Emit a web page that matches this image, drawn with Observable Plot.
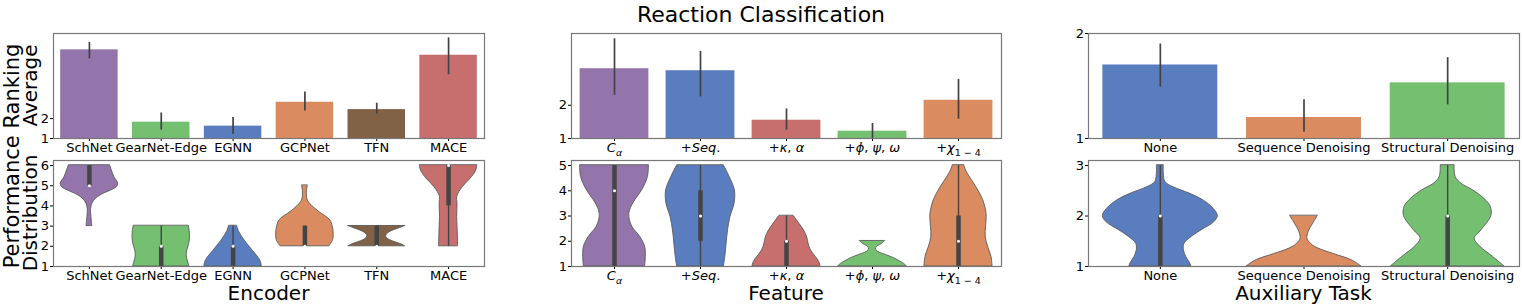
<!DOCTYPE html>
<html><head><meta charset="utf-8">
<script src="https://cdn.jsdelivr.net/npm/d3@7"></script>
<script src="https://cdn.jsdelivr.net/npm/@observablehq/plot@0.6"></script>
<style>
html,body{margin:0;padding:0;background:#fff;}
#chart{position:relative;width:1522px;height:308px;overflow:hidden;font-family:"DejaVu Sans",sans-serif;}
</style></head><body><div id="chart"></div>
<script>
// ---------------- DATA ----------------
const encoders = ["SchNet", "GearNet-Edge", "EGNN", "GCPNet", "TFN", "MACE"];
const encoderMean = [5.45, 1.82, 1.62, 2.82, 2.45, 5.18];
const encoderLo   = [5.00, 1.42, 1.20, 2.38, 2.23, 4.20];
const encoderHi   = [5.82, 2.28, 2.05, 3.33, 2.77, 6.05];

const features = ["Cα", "+Seq.", "+κ, α", "+ϕ, ψ, ω", "+χ1−4"];
const featureMean = [3.10, 3.04, 1.55, 1.22, 2.15];
const featureLo   = [2.30, 2.25, 1.25, 1.00, 1.58];
const featureHi   = [4.00, 3.62, 1.89, 1.45, 2.78];

const auxTasks = ["None", "Sequence Denoising", "Structural Denoising"];
const auxMean = [1.70, 1.20, 1.53];
const auxLo   = [1.49, 1.06, 1.32];
const auxHi   = [1.90, 1.37, 1.77];

// violin profiles: [rank value, relative half width]
const encoderViolins = [
  [[6,0.72],[5.75,0.78],[5.42,0.87],[5.1,1.0],[4.93,0.95],[4.77,0.76],[4.6,0.49],[4.36,0.23],[4.1,0.1],[3.86,0.06],[3.62,0.06],[3.29,0.08],[3,0.1]],
  [[3,0.96],[2.75,0.99],[2.5,1.0],[2.25,0.99],[2,0.95],[1.75,0.9],[1.5,0.89],[1.25,0.93],[1,0.98]],
  [[3,0.14],[2.75,0.2],[2.5,0.3],[2.25,0.42],[2,0.56],[1.75,0.7],[1.5,0.85],[1.25,0.96],[1,1.0]],
  [[5,0.1],[4.75,0.07],[4.5,0.07],[4.27,0.1],[4,0.25],[3.7,0.5],[3.29,0.88],[2.96,0.97],[2.63,1.0],[2.3,0.98],[2,0.85]],
  [[3,0.99],[2.9,0.8],[2.8,0.6],[2.7,0.45],[2.6,0.36],[2.5,0.33],[2.4,0.36],[2.3,0.47],[2.2,0.65],[2.1,0.85],[2,0.99]],
  [[6,1.0],[5.75,0.96],[5.42,0.81],[5.1,0.6],[4.77,0.41],[4.44,0.3],[4.11,0.31],[3.45,0.3],[2.63,0.32],[2,0.33]]
];
const featureViolins = [
  [[5,1.0],[4.54,0.97],[4.01,0.8],[3.62,0.6],[3.22,0.45],[2.96,0.43],[2.57,0.52],[2.17,0.75],[1.78,0.89],[1.38,0.91],[1,0.89]],
  [[5,0.68],[4.54,0.85],[4.01,1.0],[3.49,0.99],[2.96,0.87],[2.43,0.8],[1.91,0.76],[1.38,0.72],[1,0.68]],
  [[3,0.21],[2.7,0.37],[2.38,0.53],[2.11,0.61],[1.91,0.64],[1.64,0.71],[1.38,0.85],[1.18,0.95],[1,0.99]],
  [[2,0.36],[1.9,0.28],[1.8,0.15],[1.7,0.1],[1.6,0.14],[1.5,0.3],[1.4,0.5],[1.3,0.67],[1.2,0.8],[1.1,0.92],[1,1.0]],
  [[5,0.17],[4.8,0.22],[4.54,0.33],[4.14,0.52],[3.62,0.72],[3.22,0.8],[2.96,0.82],[2.57,0.8],[2.17,0.79],[1.78,0.86],[1.38,0.96],[1,0.99]]
];
const auxViolins = [
  [[3,0.06],[2.84,0.06],[2.67,0.09],[2.57,0.23],[2.44,0.52],[2.31,0.75],[2.14,0.93],[2,1.0],[1.88,0.94],[1.72,0.72],[1.59,0.55],[1.45,0.42],[1.32,0.41],[1.19,0.45],[1.06,0.52],[1,0.54]],
  [[2,0.24],[1.85,0.16],[1.68,0.08],[1.55,0.06],[1.45,0.12],[1.39,0.19],[1.32,0.33],[1.22,0.59],[1.13,0.82],[1,1.0]],
  [[3,0.12],[2.77,0.14],[2.64,0.24],[2.51,0.44],[2.34,0.64],[2.18,0.75],[2,0.76],[1.72,0.59],[1.55,0.47],[1.39,0.57],[1.19,0.79],[1,0.99]]
];

// inner box statistics: q1, median, q3, whisker low, whisker high
const encoderQ1  = [5, 1, 1, 2, 2, 4];
const encoderMed = [5, 2, 2, 2, 2, 6];
const encoderQ3  = [6, 2, 2, 3, 3, 6];
const encoderWLo = [5, 1, 1, 2, 2, 2];
const encoderWHi = [6, 3, 3, 3, 3, 6];

const featureQ1  = [1, 2, 1, 1, 1];
const featureMed = [4, 3, 2, 1, 2];
const featureQ3  = [5, 4, 2, 1, 3];
const featureWLo = [1, 1, 1, 1, 1];
const featureWHi = [5, 5, 3, 1, 5];

const auxQ1  = [1, 1, 1];
const auxMed = [2, 1, 2];
const auxQ3  = [2, 1, 2];
const auxWLo = [1, 1, 1];
const auxWHi = [3, 1, 3];

// axis ticks / domains
const encoderTopTicks = [1, 2],  encoderTopDomain = [1, 6.27];
const featureTopTicks = [1, 2],  featureTopDomain = [1, 4.16];
const auxTopTicks = [1, 2],      auxTopDomain = [1, 2];
const encoderBotTicks = [1, 2, 3, 4, 5, 6], encoderBotDomain = [1, 6.25];
const featureBotTicks = [1, 2, 3, 4, 5],    featureBotDomain = [1, 5.2];
const auxBotTicks = [1, 2, 3],              auxBotDomain = [1, 3.1];

// ---------------- STYLE ----------------
const muted = {blue:"#4878d0", orange:"#ee854a", green:"#6acc64", red:"#d65f5f", purple:"#956cb4", brown:"#8c613c"};
const desat = c => { const h = d3.hsl(c); h.s *= 0.75; return h.formatHex(); };
const encoderColors = [muted.purple, muted.green, muted.blue, muted.orange, muted.brown, muted.red].map(desat);
const featureColors = [muted.purple, muted.blue, muted.red, muted.green, muted.orange].map(desat);
const auxColors = [muted.blue, muted.orange, muted.green].map(desat);

const featureTickParts = {
  "Cα": [{t:"C", it:true}, {t:"α", it:true, sub:true}],
  "+Seq.": [{t:"+"}, {t:"Seq", it:true}, {t:"."}],
  "+κ, α": [{t:"+"}, {t:"κ", it:true}, {t:", "}, {t:"α", it:true}],
  "+ϕ, ψ, ω": [{t:"+"}, {t:"ϕ", it:true}, {t:", "}, {t:"ψ", it:true}, {t:", "}, {t:"ω", it:true}],
  "+χ1−4": [{t:"+"}, {t:"χ", it:true}, {t:"1 − 4", sub:true}]
};

const GEOM = {cols: [[53, 484], [571, 1001], [1088, 1519]], top: [33, 138], bottom: [160, 266]};
const M = {l: 40, r: 3, t: 6, b: 26};
const chart = document.getElementById("chart");

function panel(cats, col, row, yDomain, yTicks, marks) {
  const [x0, x1] = GEOM.cols[col];
  const [y0, y1] = GEOM[row];
  const svg = Plot.plot({
    width: x1 - x0 + M.l + M.r,
    height: y1 - y0 + M.t + M.b,
    marginLeft: M.l, marginRight: M.r, marginTop: M.t, marginBottom: M.b,
    style: {fontSize: "13px", fontFamily: "'DejaVu Sans', sans-serif", color: "#000", background: "transparent", overflow: "visible"},
    x: {domain: [-0.5, cats.length - 0.5], ticks: d3.range(cats.length), tickFormat: i => cats[i], tickSize: 3, tickPadding: 1.5, label: null},
    y: {domain: yDomain, ticks: yTicks, tickFormat: d3.format("d"), tickSize: 3, tickPadding: 1.5, label: null},
    color: {type: "identity"},
    marks: [...marks, Plot.frame({stroke: "#777", strokeWidth: 1.2})]
  });
  svg.style.position = "absolute";
  svg.style.left = (x0 - M.l) + "px";
  svg.style.top = (y0 - M.t) + "px";
  chart.appendChild(svg);
  return svg;
}

function barPanel(cats, mean, lo, hi, colors, col, yDomain, yTicks) {
  const rows = cats.map((c, i) => ({i, mean: mean[i], lo: lo[i], hi: hi[i], color: colors[i]}));
  return panel(cats, col, "top", yDomain, yTicks, [
    Plot.rectY(rows, {x1: d => d.i - 0.4, x2: d => d.i + 0.4, y1: yDomain[0], y2: "mean", fill: "color"}),
    Plot.ruleX(rows, {x: "i", y1: "lo", y2: "hi", stroke: "#424242", strokeWidth: 1.7})
  ]);
}

function violinPanel(cats, profiles, q1, med, q3, wlo, whi, colors, col, yDomain, yTicks) {
  const vrows = profiles.flatMap((p, i) => p.map(([v, w]) => ({i, v, w, color: colors[i]})));
  const box = cats.map((c, i) => ({i, q1: q1[i], med: med[i], q3: q3[i], wlo: wlo[i], whi: whi[i]}));
  return panel(cats, col, "bottom", yDomain, yTicks, [
    Plot.areaX(vrows, {y: "v", x1: d => d.i - 0.4 * d.w, x2: d => d.i + 0.4 * d.w, z: "i", fill: "color", stroke: "#5a5a5a", strokeWidth: 0.9, curve: "catmull-rom"}),
    Plot.ruleX(box, {x: "i", y1: "wlo", y2: "whi", stroke: "#444", strokeWidth: 1.4}),
    Plot.ruleX(box, {x: "i", y1: "q1", y2: "q3", stroke: "#444", strokeWidth: 4.5}),
    Plot.dot(box.filter(d => d.q3 > d.q1), {x: "i", y: "med", r: 1.5, fill: "white"})
  ]);
}

function richTicks(svg) {
  svg.querySelectorAll("text").forEach(t => {
    const parts = featureTickParts[t.textContent];
    if (!parts) return;
    t.textContent = "";
    for (const p of parts) {
      const s = document.createElementNS("http://www.w3.org/2000/svg", "tspan");
      s.textContent = p.t;
      if (p.it) s.setAttribute("font-style", "italic");
      if (p.sub) { s.setAttribute("font-size", "9.5"); s.setAttribute("dy", "3.5"); }
      t.appendChild(s);
    }
  });
}

barPanel(encoders, encoderMean, encoderLo, encoderHi, encoderColors, 0, encoderTopDomain, encoderTopTicks);
richTicks(barPanel(features, featureMean, featureLo, featureHi, featureColors, 1, featureTopDomain, featureTopTicks));
barPanel(auxTasks, auxMean, auxLo, auxHi, auxColors, 2, auxTopDomain, auxTopTicks);

violinPanel(encoders, encoderViolins, encoderQ1, encoderMed, encoderQ3, encoderWLo, encoderWHi, encoderColors, 0, encoderBotDomain, encoderBotTicks);
richTicks(violinPanel(features, featureViolins, featureQ1, featureMed, featureQ3, featureWLo, featureWHi, featureColors, 1, featureBotDomain, featureBotTicks));
violinPanel(auxTasks, auxViolins, auxQ1, auxMed, auxQ3, auxWLo, auxWHi, auxColors, 2, auxBotDomain, auxBotTicks);

// ---------------- LABELS ----------------
const labels = d3.create("svg").attr("width", 1522).attr("height", 308)
  .style("position", "absolute").style("left", "0px").style("top", "0px").style("pointer-events", "none")
  .style("font-family", "'DejaVu Sans', sans-serif");
labels.append("text").attr("x", 761).attr("y", 22).attr("text-anchor", "middle").attr("font-size", 22).text("Reaction Classification");
[["Encoder", 268.5], ["Feature", 786], ["Auxiliary Task", 1303.5]].forEach(([t, x]) =>
  labels.append("text").attr("x", x).attr("y", 299.5).attr("text-anchor", "middle").attr("font-size", 20).text(t));
labels.append("text").attr("transform", "translate(18.5,156) rotate(-90)").attr("text-anchor", "middle").attr("font-size", 21).text("Performance Ranking");
labels.append("text").attr("transform", "translate(37,85.5) rotate(-90)").attr("text-anchor", "middle").attr("font-size", 20).text("Average");
labels.append("text").attr("transform", "translate(37,213) rotate(-90)").attr("text-anchor", "middle").attr("font-size", 20).text("Distribution");
chart.appendChild(labels.node());
</script></body></html>
